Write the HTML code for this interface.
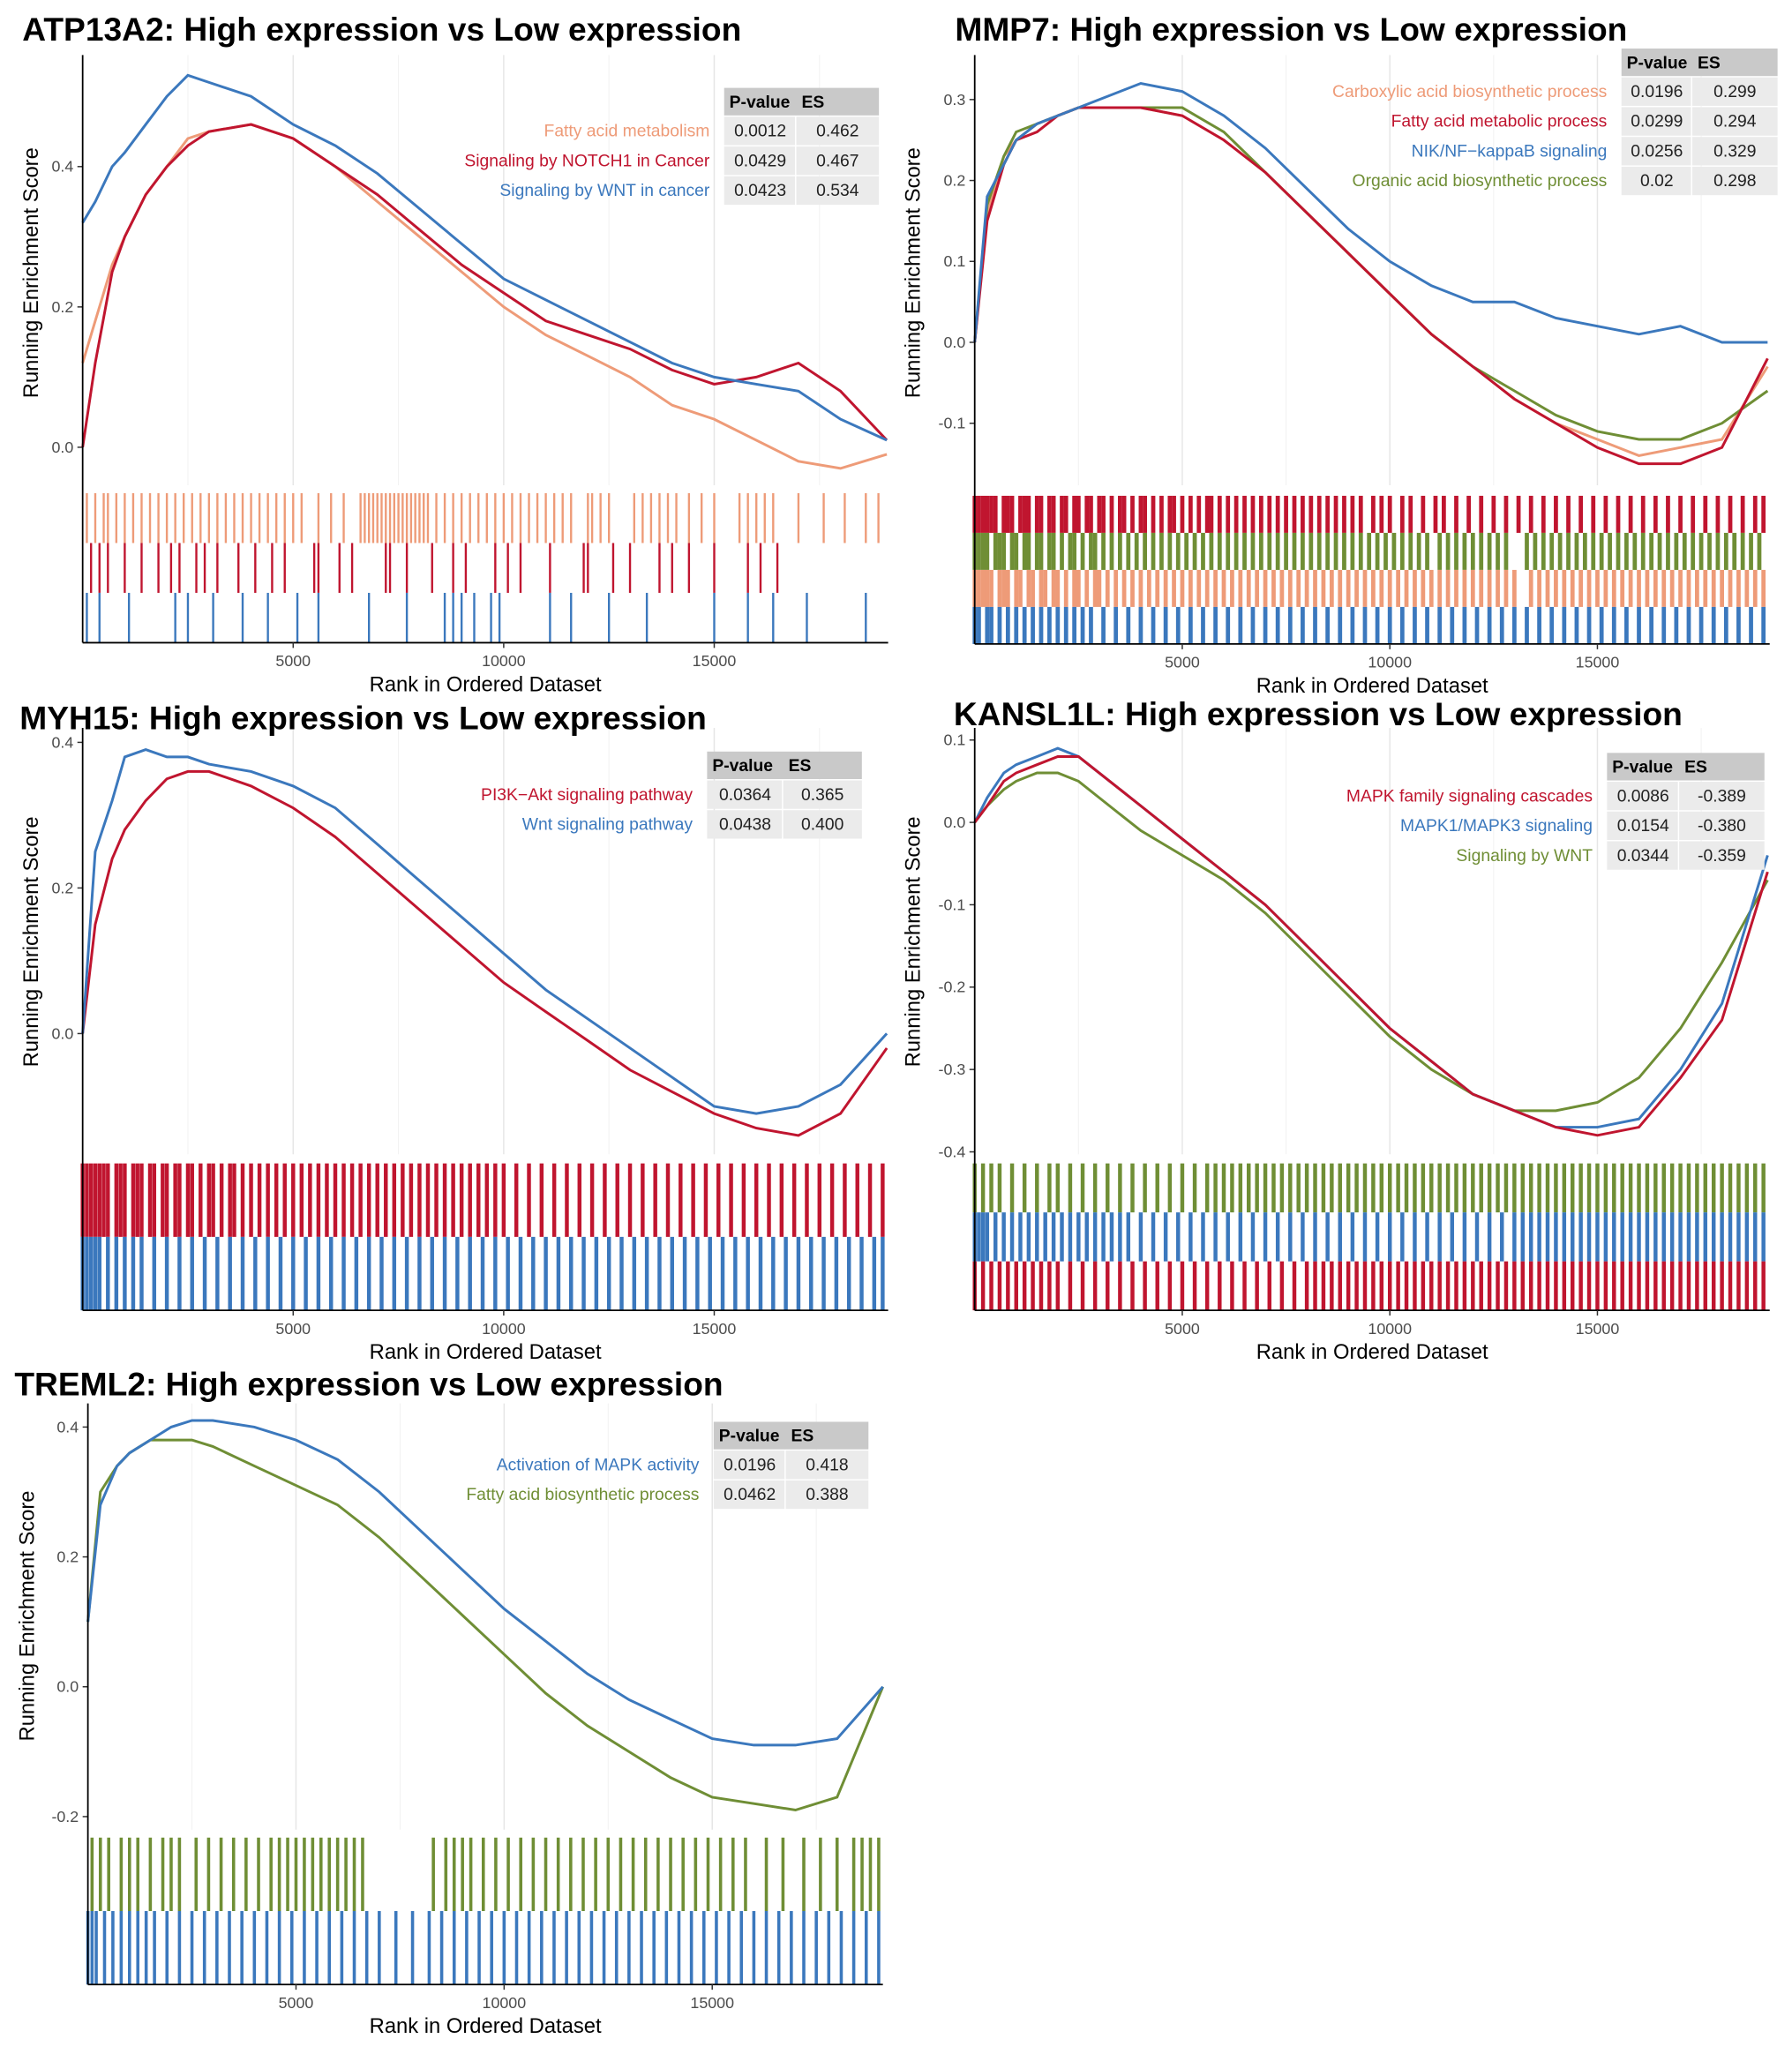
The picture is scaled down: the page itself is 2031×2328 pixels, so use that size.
<!DOCTYPE html>
<html><head><meta charset="utf-8"><style>
html,body{margin:0;padding:0;background:#fff}
svg{display:block}
text{font-family:"Liberation Sans",sans-serif}
</style></head><body>
<svg id="fig" width="2031" height="2328" viewBox="0 0 1366 1566" preserveAspectRatio="none" xmlns="http://www.w3.org/2000/svg"></svg>
<script>
// ---- data ----
const ranks = [0,300,700,1000,1500,2000,2500,3000,4000,5000,6000,7000,8000,9000,10000,11000,12000,13000,14000,15000,16000,17000,18000,19100];
const xTicks = [5000,10000,15000];
// panel 1 ATP13A2
const p1Names = ["Fatty acid metabolism","Signaling by NOTCH1 in Cancer","Signaling by WNT in cancer"];
const p1Pval = ["0.0012","0.0429","0.0423"];
const p1ES = ["0.462","0.467","0.534"];
const p1Orange = [0.12,0.18,0.26,0.30,0.36,0.40,0.44,0.45,0.46,0.44,0.40,0.35,0.30,0.25,0.20,0.16,0.13,0.10,0.06,0.04,0.01,-0.02,-0.03,-0.01];
const p1Red = [0.0,0.12,0.25,0.30,0.36,0.40,0.43,0.45,0.46,0.44,0.40,0.36,0.31,0.26,0.22,0.18,0.16,0.14,0.11,0.09,0.10,0.12,0.08,0.01];
const p1Blue = [0.32,0.35,0.40,0.42,0.46,0.50,0.53,0.52,0.50,0.46,0.43,0.39,0.34,0.29,0.24,0.21,0.18,0.15,0.12,0.10,0.09,0.08,0.04,0.01];
const p1Ticks = [0.0,0.2,0.4];
const p1HitsOrange = [1,3,5,6,8,10,12,14,16,18,20,22,24,26,28,30,32,34,36,38,40,42,44,46,48,50,52,56,59,62,66,67,68,69,70,71,72,73,74,75,76,77,78,79,80,81,82,84,86,88,90,92,94,96,98,100,102,104,106,108,110,112,114,116,120,121,123,125,131,133,135,137,139,141,144,147,150,156,158,160,162,164,170,176,181,186,189];
const p1HitsRed = [2,4,6,10,14,18,21,23,27,29,32,37,41,45,48,55,56,61,64,72,73,77,83,88,91,98,101,104,111,119,120,126,130,137,140,144,150,158,161,165];
const p1HitsBlue = [1,4,11,22,25,31,38,44,51,56,68,77,86,88,90,93,97,99,111,116,125,134,150,158,164,172,186];
// panel 2 MMP7
const p2Names = ["Carboxylic acid biosynthetic process","Fatty acid metabolic process","NIK/NF\u2212kappaB signaling","Organic acid biosynthetic process"];
const p2Pval = ["0.0196","0.0299","0.0256","0.02"];
const p2ES = ["0.299","0.294","0.329","0.298"];
const p2Orange = [0.0,0.16,0.23,0.25,0.27,0.28,0.29,0.29,0.29,0.28,0.25,0.21,0.16,0.11,0.06,0.01,-0.03,-0.07,-0.10,-0.12,-0.14,-0.13,-0.12,-0.03];
const p2Red = [0.0,0.15,0.22,0.25,0.26,0.28,0.29,0.29,0.29,0.28,0.25,0.21,0.16,0.11,0.06,0.01,-0.03,-0.07,-0.10,-0.13,-0.15,-0.15,-0.13,-0.02];
const p2Blue = [0.0,0.18,0.22,0.25,0.27,0.28,0.29,0.30,0.32,0.31,0.28,0.24,0.19,0.14,0.10,0.07,0.05,0.05,0.03,0.02,0.01,0.02,0.00,0.0];
const p2Green = [0.0,0.17,0.23,0.26,0.27,0.28,0.29,0.29,0.29,0.29,0.26,0.21,0.16,0.11,0.06,0.01,-0.03,-0.06,-0.09,-0.11,-0.12,-0.12,-0.10,-0.06];
const p2Ticks = [-0.1,0.0,0.1,0.2,0.3];
const p2HitsRed = [0,1,2,3,4,5,7,8,9,11,12,13,15,16,18,19,21,22,24,25,27,28,30,31,33,35,36,38,40,41,43,45,47,48,50,52,54,56,57,59,61,63,65,67,69,71,73,75,77,79,81,83,85,87,89,91,93,96,98,100,103,105,108,111,113,116,119,122,125,128,131,134,137,140,143,146,149,152,155,158,161,164,167,170,173,176,179,182,185,188,190];
const p2HitsGreen = [0,1,2,3,5,6,7,9,10,12,13,15,16,18,19,21,23,24,26,28,29,31,33,35,37,39,41,43,45,47,49,51,53,55,57,59,61,63,65,67,69,71,73,75,77,79,81,83,85,87,89,91,93,95,97,99,101,103,105,107,109,112,114,116,118,120,122,124,126,128,133,135,137,139,141,143,145,147,149,151,153,155,157,159,161,163,165,167,169,171,173,175,177,179,181,183,185,187,189];
const p2HitsOrange = [0,1,2,3,4,6,7,8,10,11,13,14,16,17,19,20,22,24,25,27,29,30,32,34,36,38,40,42,44,46,48,50,52,54,56,58,60,62,64,66,68,70,72,74,76,78,80,82,84,86,88,90,92,94,96,98,100,102,104,106,108,110,112,114,116,118,120,122,124,126,128,130,134,136,138,140,142,144,146,148,150,152,154,156,158,160,162,164,166,168,170,172,174,176,178,180,182,184,186,188,190];
const p2HitsBlue = [0,1,3,4,6,8,10,12,14,16,18,20,22,24,26,28,31,34,37,40,43,46,49,52,55,58,61,64,67,70,73,76,79,82,85,88,91,94,97,100,103,106,109,112,115,118,121,124,127,130,133,136,139,142,145,148,151,154,157,160,163,166,169,172,175,178,181,184,187,190];
// panel 3 MYH15
const p3Names = ["PI3K\u2212Akt signaling pathway","Wnt signaling pathway"];
const p3Pval = ["0.0364","0.0438"];
const p3ES = ["0.365","0.400"];
const p3Red = [0.0,0.15,0.24,0.28,0.32,0.35,0.36,0.36,0.34,0.31,0.27,0.22,0.17,0.12,0.07,0.03,-0.01,-0.05,-0.08,-0.11,-0.13,-0.14,-0.11,-0.02];
const p3Blue = [0.0,0.25,0.32,0.38,0.39,0.38,0.38,0.37,0.36,0.34,0.31,0.26,0.21,0.16,0.11,0.06,0.02,-0.02,-0.06,-0.10,-0.11,-0.10,-0.07,0.0];
const p3Ticks = [0.0,0.2,0.4];
const p3HitsRed = [0,1,2,3,4,5,6,8,9,10,12,13,14,16,17,19,20,22,23,25,26,28,30,31,33,35,36,38,40,42,44,46,48,50,52,54,56,58,60,62,64,66,68,70,72,74,76,78,80,82,84,86,88,90,92,94,96,98,100,103,106,109,112,115,118,121,124,127,130,133,136,139,142,145,148,151,154,157,160,163,166,169,172,175,178,181,184,187,190];
const p3HitsBlue = [0,1,2,3,4,6,8,10,12,14,17,20,23,26,29,32,35,38,41,44,47,50,53,56,59,62,65,68,71,74,77,80,83,86,89,92,95,98,101,104,107,110,113,116,119,122,125,128,131,134,137,140,143,146,149,152,155,158,161,164,167,170,173,176,179,182,185,188,190];
// panel 4 KANSL1L
const p4Names = ["MAPK family signaling cascades","MAPK1/MAPK3 signaling","Signaling by WNT"];
const p4Pval = ["0.0086","0.0154","0.0344"];
const p4ES = ["-0.389","-0.380","-0.359"];
const p4Red = [0.0,0.02,0.05,0.06,0.07,0.08,0.08,0.06,0.02,-0.02,-0.06,-0.10,-0.15,-0.20,-0.25,-0.29,-0.33,-0.35,-0.37,-0.38,-0.37,-0.31,-0.24,-0.06];
const p4Blue = [0.0,0.03,0.06,0.07,0.08,0.09,0.08,0.06,0.02,-0.02,-0.06,-0.10,-0.15,-0.20,-0.25,-0.29,-0.33,-0.35,-0.37,-0.37,-0.36,-0.30,-0.22,-0.04];
const p4Green = [0.0,0.02,0.04,0.05,0.06,0.06,0.05,0.03,-0.01,-0.04,-0.07,-0.11,-0.16,-0.21,-0.26,-0.30,-0.33,-0.35,-0.35,-0.34,-0.31,-0.25,-0.17,-0.07];
const p4Ticks = [-0.4,-0.3,-0.2,-0.1,0.0,0.1];
const p4HitsGreen = [0,2,4,6,9,12,15,18,20,23,26,29,32,35,38,41,44,47,50,53,56,58,60,62,64,66,68,70,72,74,76,78,80,82,84,86,88,90,92,94,96,98,100,102,104,106,108,110,112,114,116,118,120,122,124,126,128,130,132,134,136,138,140,142,144,146,148,150,152,154,156,158,160,162,164,166,168,170,172,174,176,178,180,182,184,186,188,190];
const p4HitsBlue = [0,1,2,3,5,7,9,11,13,15,17,19,21,23,25,27,29,31,33,35,37,40,43,46,49,52,55,58,61,64,67,70,73,76,79,82,85,88,91,94,97,100,103,106,109,112,115,118,121,124,127,130,132,134,136,138,140,142,144,146,148,150,152,154,156,158,160,162,164,166,168,170,172,174,176,178,180,182,184,186,188,190];
const p4HitsRed = [0,2,4,6,8,10,12,14,16,18,20,23,26,29,32,35,38,41,44,47,50,53,56,59,62,65,68,71,74,77,80,82,84,86,88,90,92,94,96,98,100,102,104,106,108,110,112,114,116,118,120,122,124,126,128,130,132,134,136,138,140,142,144,146,148,150,152,154,156,158,160,162,164,166,168,170,172,174,176,178,180,182,184,186,188,190];
// panel 5 TREML2
const p5Names = ["Activation of MAPK activity","Fatty acid biosynthetic process"];
const p5Pval = ["0.0196","0.0462"];
const p5ES = ["0.418","0.388"];
const p5Blue = [0.10,0.28,0.34,0.36,0.38,0.40,0.41,0.41,0.40,0.38,0.35,0.30,0.24,0.18,0.12,0.07,0.02,-0.02,-0.05,-0.08,-0.09,-0.09,-0.08,0.0];
const p5Green = [0.10,0.30,0.34,0.36,0.38,0.38,0.38,0.37,0.34,0.31,0.28,0.23,0.17,0.11,0.05,-0.01,-0.06,-0.10,-0.14,-0.17,-0.18,-0.19,-0.17,0.0];
const p5Ticks = [-0.2,0.0,0.2,0.4];
const p5HitsGreen = [1,3,5,8,10,12,15,18,20,22,26,29,32,35,38,41,44,46,48,50,52,54,56,58,60,62,64,66,83,86,88,90,92,95,98,101,104,107,110,113,116,119,122,125,128,131,134,137,140,143,146,149,152,155,158,163,167,172,176,180,184,186,188,190];
const p5HitsBlue = [0,1,2,4,6,8,10,12,14,16,19,22,25,28,31,34,37,40,43,46,49,52,55,58,61,64,67,70,74,78,82,85,88,91,94,97,100,103,106,109,112,115,118,121,124,127,130,133,136,139,142,145,148,151,154,157,160,163,166,169,172,175,178,181,184,187,190];

// ---- colours & layout ----
const C = {orange:"#EE9B78", red:"#C0152F", blue:"#3B78BD", green:"#6F8E35"};
const NS = "http://www.w3.org/2000/svg";
const svg = document.getElementById("fig");
function mk(tag, attrs, parent){const e=document.createElementNS(NS,tag);for(const k in attrs)e.setAttribute(k,attrs[k]);(parent||svg).appendChild(e);return e;}

const panels = [
 {title:"ATP13A2: High expression vs Low expression", tx:17, ty:31, x0:63, x1:677, xmax:19130, top:42, upBot:370, y0v:0.0, y0px:341, pxPer:535, ticks:p1Ticks,
  series:[[p1Orange,C.orange],[p1Red,C.red],[p1Blue,C.blue]], rugTop:376, rugBot:490, rugs:[[p1HitsOrange,C.orange],[p1HitsRed,C.red],[p1HitsBlue,C.blue]], rugW:1.6,
  tbl:{x:552,c2:607,c3:670,hy:67,names:p1Names,pv:p1Pval,es:p1ES,cols:[C.orange,C.red,C.blue]}, ylabC:208, ylabX:29},
 {title:"MMP7: High expression vs Low expression", tx:728, ty:31, x0:743, x1:1349, xmax:19150, top:42, upBot:370, y0v:0.0, y0px:261, pxPer:617, ticks:p2Ticks,
  series:[[p2Orange,C.orange],[p2Green,C.green],[p2Red,C.red],[p2Blue,C.blue]], rugTop:378, rugBot:491, rugs:[[p2HitsRed,C.red],[p2HitsGreen,C.green],[p2HitsOrange,C.orange],[p2HitsBlue,C.blue]], rugW:3.2,
  tbl:{x:1236,c2:1290,c3:1355,hy:37,names:p2Names,pv:p2Pval,es:p2ES,cols:[C.orange,C.red,C.blue,C.green]}, ylabC:208, ylabX:701},
 {title:"MYH15: High expression vs Low expression", tx:15, ty:556, x0:63, x1:677, xmax:19130, top:555, upBot:880, y0v:0.0, y0px:788, pxPer:555, ticks:p3Ticks,
  series:[[p3Red,C.red],[p3Blue,C.blue]], rugTop:887, rugBot:999, rugs:[[p3HitsRed,C.red],[p3HitsBlue,C.blue]], rugW:3,
  tbl:{x:539,c2:597,c3:657,hy:573,names:p3Names,pv:p3Pval,es:p3ES,cols:[C.red,C.blue]}, ylabC:718, ylabX:29},
 {title:"KANSL1L: High expression vs Low expression", tx:727, ty:553, x0:743, x1:1349, xmax:19150, top:555, upBot:880, y0v:0.0, y0px:627, pxPer:628, ticks:p4Ticks,
  series:[[p4Green,C.green],[p4Blue,C.blue],[p4Red,C.red]], rugTop:887, rugBot:999, rugs:[[p4HitsGreen,C.green],[p4HitsBlue,C.blue],[p4HitsRed,C.red]], rugW:3,
  tbl:{x:1225,c2:1280,c3:1345,hy:574,names:p4Names,pv:p4Pval,es:p4ES,cols:[C.red,C.blue,C.green]}, ylabC:718, ylabX:701},
 {title:"TREML2: High expression vs Low expression", tx:11, ty:1064, x0:67, x1:673, xmax:19100, top:1070, upBot:1395, y0v:0.0, y0px:1286, pxPer:495, ticks:p5Ticks,
  series:[[p5Green,C.green],[p5Blue,C.blue]], rugTop:1401, rugBot:1513, rugs:[[p5HitsGreen,C.green],[p5HitsBlue,C.blue]], rugW:2.4,
  tbl:{x:544,c2:599,c3:662,hy:1084,names:p5Names,pv:p5Pval,es:p5ES,cols:[C.blue,C.green]}, ylabC:1232, ylabX:26}
];

panels.forEach((p,pi)=>{
  const g = mk("g",{});
  
  
  const xs = r => p.x0 + r/p.xmax*(p.x1-p.x0);
  const ys = v => p.y0px - (v-p.y0v)*p.pxPer;
  for(let r=2500;r<p.xmax;r+=2500){
    const gl = mk("line",{x1:xs(r),x2:xs(r),y1:p.top,y2:p.upBot,stroke:r%5000?"#f2f2f2":"#e6e6e6","stroke-width":r%5000?0.7:1},g);
    
    
  }
  const t = mk("text",{x:p.tx,y:p.ty,"font-size":25,"font-weight":"bold",fill:"#000"},g);
  t.textContent = p.title;
  
  
  p.ticks.forEach(v=>{
    const y=ys(v);
    mk("line",{x1:p.x0-4,x2:p.x0,y1:y,y2:y,stroke:"#333","stroke-width":1},g);
    const tl = mk("text",{x:p.x0-7,y:y+4,"font-size":12,fill:"#4d4d4d","text-anchor":"end"},g);
    tl.textContent = v.toFixed(1);
    
    
  });
  const yl = mk("text",{x:0,y:0,"font-size":16,fill:"#000","text-anchor":"middle",transform:`translate(${p.ylabX},${p.ylabC}) rotate(-90)`},g);
  yl.textContent = "Running Enrichment Score";
  
  
  p.series.forEach(([vals,col])=>{
    const d = vals.map((v,i)=>(i?"L":"M")+xs(ranks[i]).toFixed(1)+","+ys(v).toFixed(1)).join("");
    const pl = mk("path",{d:d,fill:"none",stroke:col,"stroke-width":2},g);
    
    
  });
  const rh = (p.rugBot-p.rugTop)/p.rugs.length;
  p.rugs.forEach(([hits,col],ri)=>{
    const y1=p.rugTop+ri*rh, y2=y1+rh;
    hits.forEach(h=>{
      const l = mk("line",{x1:xs(h*100),x2:xs(h*100),y1:y1,y2:y2,stroke:col,"stroke-width":p.rugW},g);
      
      
    });
  });
  mk("line",{x1:p.x0,x2:p.x0,y1:p.top,y2:p.rugBot,stroke:"#000","stroke-width":1.2},g);
  mk("line",{x1:p.x0,x2:p.x1,y1:p.rugBot,y2:p.rugBot,stroke:"#000","stroke-width":1.2},g);
  xTicks.forEach(r=>{
    mk("line",{x1:xs(r),x2:xs(r),y1:p.rugBot,y2:p.rugBot+4,stroke:"#333","stroke-width":1},g);
    const xl = mk("text",{x:xs(r),y:p.rugBot+18,"font-size":12,fill:"#4d4d4d","text-anchor":"middle"},g);
    xl.textContent = r;
    
    
  });
  const xt = mk("text",{x:(p.x0+p.x1)/2,y:p.rugBot+37,"font-size":16,fill:"#000","text-anchor":"middle"},g);
  xt.textContent = "Rank in Ordered Dataset";
  
  
  const T=p.tbl, hh=21, rhh=22.7;
  mk("rect",{x:T.x,y:T.hy,width:T.c3-T.x,height:hh,fill:"#c9c9c9"},g);
  const h1=mk("text",{x:T.x+4,y:T.hy+15,"font-size":13,"font-weight":"bold",fill:"#000"},g); h1.textContent="P-value";
  
  
  const h2=mk("text",{x:T.c2+4,y:T.hy+15,"font-size":13,"font-weight":"bold",fill:"#000"},g); h2.textContent="ES";
  
  
  T.names.forEach((n,i)=>{
    const y=T.hy+hh+1+i*rhh;
    mk("rect",{x:T.x,y:y,width:T.c2-T.x-1,height:rhh-1,fill:"#ebebeb"},g);
    mk("rect",{x:T.c2,y:y,width:T.c3-T.c2,height:rhh-1,fill:"#ebebeb"},g);
    const nm=mk("text",{x:T.x-11,y:y+15,"font-size":13,fill:T.cols[i],"text-anchor":"end"},g); nm.textContent=n;
    
    
    const pv=mk("text",{x:(T.x+T.c2)/2,y:y+15,"font-size":13,fill:"#222","text-anchor":"middle"},g); pv.textContent=T.pv[i];
    
    
    const es=mk("text",{x:(T.c2+T.c3)/2,y:y+15,"font-size":13,fill:"#222","text-anchor":"middle"},g); es.textContent=T.es[i];
    
    
  });
});
</script>
</body></html>
